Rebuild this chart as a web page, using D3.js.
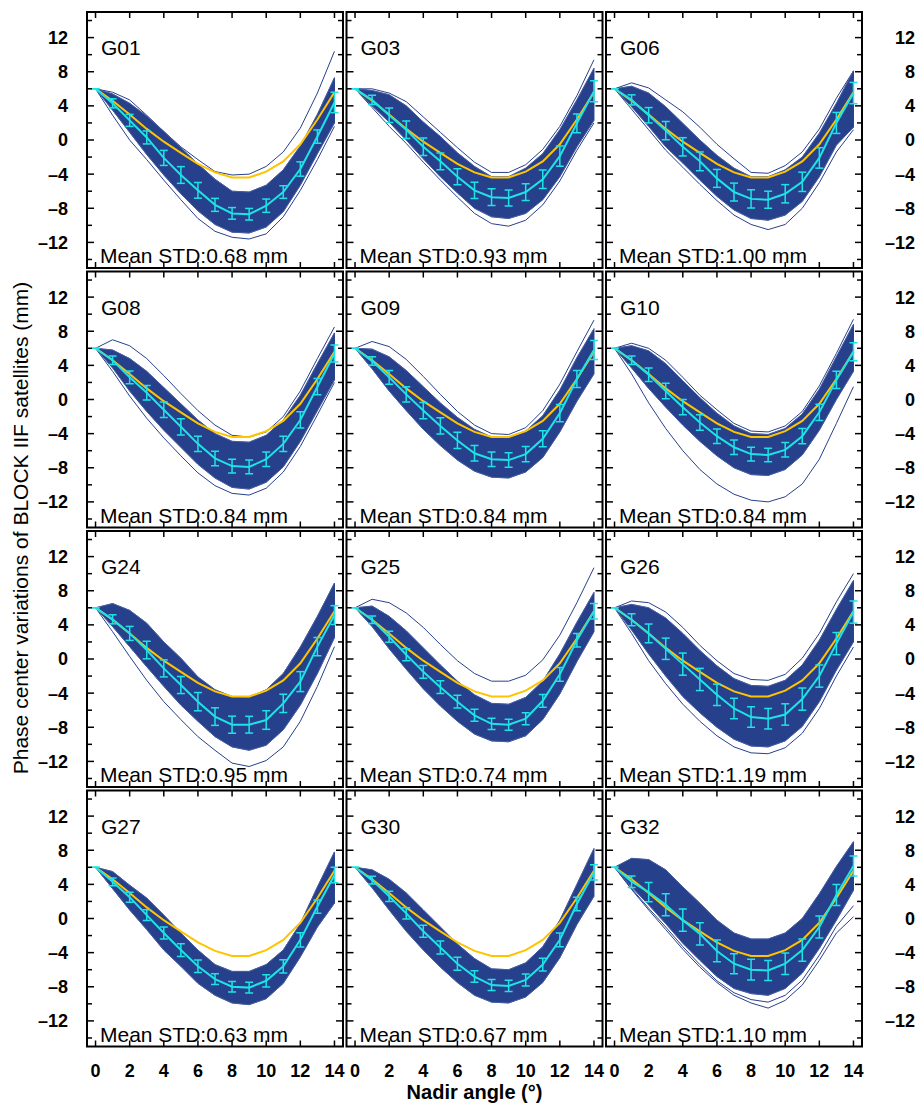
<!DOCTYPE html>
<html>
<head>
<meta charset="utf-8">
<script src="https://cdn.jsdelivr.net/npm/d3@7"></script>
<style>
  body { margin: 0; background: #fff; }
  text { font-family: "Liberation Sans", Arial, sans-serif; }
</style>
</head>
<body>
<svg width="918" height="1103"></svg>
<script>
// nadir angles (deg)
var nadir = [0,1,2,3,4,5,6,7,8,9,10,11,12,13,14];
var satellites = ["G01","G03","G06","G08","G09","G10","G24","G25","G26","G27","G30","G32"];
var meanStd = ["0.68","0.93","1.00","0.84","0.84","0.84","0.95","0.74","1.19","0.63","0.67","1.10"];

// IGS model PCV (same for all Block IIF)
var igsModel = [6.0,4.6,3.0,1.3,-0.2,-1.5,-2.8,-3.8,-4.4,-4.4,-3.7,-2.5,-0.5,2.4,5.6];

// mean estimated PCV per satellite
var meanPcv = [
  [6.0,4.3,2.3,0.3,-2.1,-4.1,-5.9,-7.6,-8.6,-8.7,-7.7,-6.1,-3.4,0.4,4.4],
  [6.0,4.7,2.9,1.2,-0.8,-2.5,-4.3,-5.9,-6.7,-6.8,-6.1,-4.6,-1.9,1.95,5.7],
  [6.0,4.7,2.9,1.1,-0.8,-2.5,-4.5,-6.1,-6.9,-7.0,-6.3,-4.9,-2.1,2.0,5.5],
  [6.0,4.6,2.6,0.8,-1.2,-3.2,-5.2,-6.9,-7.8,-7.9,-7.0,-5.2,-2.4,1.5,5.4],
  [6.0,4.5,2.6,0.6,-1.3,-3.1,-4.8,-6.3,-7.0,-7.1,-6.4,-4.6,-1.6,2.4,5.8],
  [6.0,4.6,2.9,1.0,-0.9,-2.7,-4.3,-5.6,-6.4,-6.5,-5.9,-4.3,-1.5,2.3,5.6],
  [6.0,4.65,3.0,1.05,-1.1,-3.05,-5.0,-6.75,-7.7,-7.7,-7.15,-5.2,-2.65,1.45,5.15],
  [6.0,4.6,2.6,0.5,-1.5,-3.3,-5.0,-6.6,-7.6,-7.7,-7.0,-4.9,-1.8,2.2,5.6],
  [6.0,4.6,3.0,1.2,-0.6,-2.4,-4.2,-5.8,-6.8,-7.0,-6.5,-4.7,-2.0,1.8,5.5],
  [6.0,4.3,2.5,0.4,-1.7,-3.7,-5.6,-7.1,-8.0,-8.1,-7.3,-5.6,-2.5,1.4,5.1],
  [6.0,4.5,2.6,0.6,-1.5,-3.4,-5.3,-6.8,-7.8,-7.9,-7.2,-5.4,-2.5,1.7,5.4],
  [6.0,4.3,3.1,1.6,-0.2,-1.8,-3.8,-5.3,-6.0,-6.1,-5.3,-3.7,-1.0,2.75,6.15]
];

// standard deviation per nadir angle
var stdPcv = [
  [0,0.53,0.7,0.76,0.88,0.98,0.92,0.76,0.68,0.68,0.78,0.74,0.84,0.78,1.2],
  [0,0.53,0.84,1.03,1.03,0.98,0.94,0.96,0.98,0.94,0.98,1.07,1.19,1.1,1.23],
  [0,0.59,0.9,1.07,1.07,1.1,1.05,1.05,1.07,1.0,1.07,1.13,1.2,1.23,1.25],
  [0,0.5,0.75,0.85,0.9,0.95,0.9,0.85,0.8,0.8,0.85,0.9,0.95,0.95,1.0],
  [0,0.5,0.8,0.9,0.95,0.95,0.95,0.9,0.85,0.85,0.9,0.95,1.0,1.0,1.1],
  [0,0.5,0.8,0.9,0.9,0.9,0.85,0.85,0.8,0.8,0.85,0.9,0.95,1.0,1.05],
  [0,0.53,0.82,1.03,1.0,1.0,1.07,1.03,1.0,0.98,1.09,1.07,1.17,1.07,1.1],
  [0,0.45,0.65,0.7,0.75,0.75,0.75,0.7,0.65,0.65,0.7,0.75,0.8,0.8,0.9],
  [0,0.7,1.1,1.25,1.3,1.3,1.25,1.2,1.2,1.2,1.25,1.3,1.3,1.3,1.3],
  [0,0.45,0.59,0.63,0.7,0.74,0.74,0.64,0.62,0.64,0.72,0.78,0.84,0.78,0.9],
  [0,0.45,0.6,0.65,0.7,0.75,0.75,0.68,0.65,0.65,0.7,0.75,0.8,0.8,0.9],
  [0,0.68,1.13,1.29,1.3,1.3,1.27,1.17,1.21,1.17,1.27,1.3,1.29,1.23,1.17]
];

// envelope of the bulk of the daily estimates
var bandHigh = [
  [6.0,5.4,4.3,2.8,1.0,-0.9,-2.8,-4.6,-6.0,-6.1,-5.3,-3.5,-0.7,3.0,7.3],
  [6.0,5.8,5.3,4.0,2.1,0.4,-1.5,-3.1,-4.3,-4.3,-3.3,-1.6,1.2,4.7,8.4],
  [6.0,6.3,5.5,3.9,1.95,0.0,-1.8,-3.3,-4.3,-4.3,-3.5,-2.0,0.8,4.3,8.1],
  [6.0,5.8,4.8,3.3,1.4,-0.5,-2.4,-4.0,-4.9,-5.0,-4.2,-2.4,0.5,4.2,7.8],
  [6.0,5.9,5.0,3.4,1.5,-0.4,-2.1,-3.5,-4.4,-4.5,-3.7,-1.9,1.1,4.9,8.3],
  [6.0,6.3,5.7,4.2,2.2,0.2,-1.6,-3.1,-4.0,-4.1,-3.4,-1.7,1.2,5.0,8.8],
  [6.0,6.5,5.7,4.2,2.0,0.1,-2.1,-3.6,-4.4,-4.5,-3.6,-1.7,1.4,5.0,8.9],
  [6.0,6.2,5.0,3.3,1.3,-0.7,-2.6,-4.2,-5.2,-5.3,-4.5,-2.6,0.6,4.3,7.8],
  [6.0,6.4,6.0,4.8,3.0,1.0,-0.8,-2.3,-3.1,-3.2,-2.5,-0.7,2.2,5.8,9.2],
  [6.0,5.5,3.9,2.4,0.4,-1.7,-3.7,-5.4,-6.2,-6.2,-5.4,-3.7,-0.6,3.7,7.8],
  [6.0,5.7,4.6,3.0,1.0,-1.0,-3.0,-4.7,-5.9,-6.0,-5.2,-3.3,-0.2,4.0,8.2],
  [6.0,7.05,6.9,5.7,3.7,1.8,-0.2,-1.7,-2.4,-2.4,-1.7,0.0,2.9,6.1,9.0]
];
var bandLow = [
  [6.0,3.5,0.9,-1.7,-4.1,-6.3,-8.3,-9.9,-10.8,-10.9,-10.2,-8.4,-5.3,-1.6,2.0],
  [6.0,4.0,2.1,0.0,-2.2,-4.3,-6.2,-8.0,-9.0,-9.2,-8.6,-7.0,-4.3,-0.8,2.3],
  [6.0,3.9,1.6,-0.8,-2.7,-4.7,-6.6,-8.2,-9.2,-9.4,-8.8,-7.2,-4.3,-0.6,1.5],
  [6.0,3.7,1.0,-1.4,-3.6,-5.6,-7.6,-9.2,-10.3,-10.5,-9.7,-7.9,-4.9,-1.3,2.3],
  [6.0,3.6,1.0,-1.3,-3.5,-5.4,-7.1,-8.4,-9.1,-9.2,-8.5,-6.8,-3.8,-0.2,3.0],
  [6.0,3.7,1.3,-0.9,-3.0,-4.9,-6.6,-8.0,-8.8,-8.9,-8.2,-6.5,-3.6,0.0,3.3],
  [6.0,3.8,1.45,-0.9,-3.2,-5.4,-7.3,-9.1,-10.3,-10.7,-10.1,-8.3,-5.4,-1.7,2.5],
  [6.0,3.8,1.2,-1.2,-3.5,-5.5,-7.3,-8.8,-9.6,-9.7,-9.0,-7.1,-4.1,-0.3,3.2],
  [6.0,3.4,0.6,-2.0,-4.4,-6.3,-8.0,-9.4,-10.2,-10.3,-9.6,-7.9,-5.0,-1.3,2.0],
  [6.0,3.5,1.0,-1.3,-3.7,-5.6,-7.6,-9.0,-9.9,-10.1,-9.4,-7.6,-4.5,-1.0,1.8],
  [6.0,3.6,1.0,-1.5,-3.7,-5.7,-7.5,-9.0,-9.8,-9.9,-9.2,-7.5,-4.6,-0.7,2.6],
  [6.0,3.7,1.6,-0.6,-2.9,-4.9,-6.8,-8.2,-8.8,-9.0,-8.2,-6.4,-3.5,-0.2,3.3]
];

// individual daily estimates that lie outside the bulk
var outliers = [
  [[6.0,5.6,4.7,2.9,1.0,-0.8,-2.3,-3.7,-4.1,-4.0,-3.1,-1.4,1.4,5.5,10.4],
   [6.0,2.9,0.0,-2.3,-4.7,-7.0,-9.2,-10.7,-11.4,-11.6,-11.0,-9.0,-5.9,-2.3,1.6]],
  [[6.0,6.0,5.5,4.5,2.7,0.9,-0.9,-2.6,-3.8,-3.8,-2.9,-1.1,1.6,5.2,9.4],
   [6.0,3.8,1.6,-0.4,-2.6,-4.7,-6.7,-8.6,-9.8,-10.1,-9.4,-7.6,-4.8,-1.2,2.0]],
  [[6.0,6.7,6.1,4.7,3.3,1.5,-0.5,-2.2,-3.8,-3.9,-3.0,-1.4,1.3,4.9,8.1],
   [6.0,3.6,1.2,-1.2,-3.2,-5.2,-7.1,-8.8,-9.9,-10.5,-9.9,-8.0,-5.0,-1.4,1.2]],
  [[6.0,7.0,6.3,4.8,2.8,0.7,-1.3,-3.0,-4.2,-4.4,-3.8,-2.0,1.0,4.8,8.5],
   [6.0,3.3,0.4,-2.2,-4.5,-6.6,-8.6,-10.1,-11.0,-11.2,-10.4,-8.5,-5.5,-1.8,2.0]],
  [[6.0,6.8,6.2,4.7,2.7,0.6,-1.4,-3.0,-4.0,-4.1,-3.3,-1.3,1.8,5.6,9.3]],
  [[6.0,3.0,-0.4,-3.4,-6.0,-8.2,-9.9,-11.1,-11.8,-12.0,-11.4,-9.9,-7.0,-2.8,1.5],
   [6.0,6.6,6.0,4.6,2.6,0.5,-1.2,-2.8,-3.7,-3.8,-3.1,-1.4,1.6,5.4,9.4]],
  [[6.0,3.2,0.3,-2.5,-5.0,-7.1,-9.1,-10.7,-12.2,-12.6,-11.9,-10.3,-7.3,-3.2,1.45]],
  [[6.0,7.0,6.6,5.4,3.7,1.7,-0.2,-1.7,-2.6,-2.6,-1.9,-0.1,2.8,6.6,10.7]],
  [[6.0,3.0,-0.2,-2.9,-5.3,-7.3,-9.0,-10.3,-11.0,-11.1,-10.4,-8.7,-5.8,-2.0,1.4],
   [6.0,6.8,6.6,5.5,3.7,1.6,-0.2,-1.7,-2.4,-2.5,-1.8,0.1,3.0,6.7,10.0]],
  [],
  [],
  [[6.0,3.4,1.0,-1.3,-3.6,-5.7,-7.5,-9.0,-9.9,-10.5,-9.6,-7.8,-4.9,-1.7,0.2],
   [6.0,3.5,1.2,-1.0,-3.3,-5.4,-7.3,-8.7,-9.5,-9.8,-9.0,-7.2,-4.3,-0.9,1.5]]
];

var xTicks = [0,2,4,6,8,10,12,14];
var yTicks = [-14,-12,-10,-8,-6,-4,-2,0,2,4,6,8,10,12,14];
var yLabels = [-12,-8,-4,0,4,8,12];

var blue = "#27408b", cyan = "#1ee3e6", gold = "#ffc400";

var svg = d3.select("svg");
var pw = 256, ph = 256, step = 259.5, left0 = 87, top0 = 12;

var x = d3.scaleLinear().domain([-0.5, 14.5]).range([0, pw]);
var y = d3.scaleLinear().domain([-15, 15]).range([ph, 0]);
var fmt = function(v) { return v < 0 ? "\u2013" + Math.abs(v) : String(v); };

var line = d3.line().x(function(d, i) { return x(nadir[i]); }).y(function(d) { return y(d); });
var area = d3.area()
    .x(function(d, i) { return x(nadir[i]); })
    .y0(function(d) { return y(d[0]); })
    .y1(function(d) { return y(d[1]); });

svg.append("defs").append("clipPath").attr("id", "clip")
  .append("rect").attr("width", pw).attr("height", ph);

satellites.forEach(function(sat, k) {
  var col = k % 3, row = Math.floor(k / 3);
  var g = svg.append("g")
      .attr("transform", "translate(" + (left0 + col * step) + "," + (top0 + row * step) + ")");
  var plot = g.append("g").attr("clip-path", "url(#clip)");

  // daily curves
  outliers[k].forEach(function(o) {
    plot.append("path").attr("d", line(o))
      .attr("fill", "none").attr("stroke", blue).attr("stroke-width", 1);
  });
  var band = bandLow[k].map(function(v, i) { return [v, bandHigh[k][i]]; });
  plot.append("path").attr("d", area(band))
    .attr("fill", blue).attr("stroke", blue).attr("stroke-width", 1);
  plot.append("path").attr("d", line(bandHigh[k]))
    .attr("fill", "none").attr("stroke", "#5a6fae").attr("stroke-width", 0.6);
  plot.append("path").attr("d", line(bandLow[k]))
    .attr("fill", "none").attr("stroke", "#5a6fae").attr("stroke-width", 0.6);

  // IGS model
  plot.append("path").attr("d", line(igsModel))
    .attr("fill", "none").attr("stroke", gold).attr("stroke-width", 2);

  // mean and error bars
  plot.append("path").attr("d", line(meanPcv[k]))
    .attr("fill", "none").attr("stroke", cyan).attr("stroke-width", 2);
  var eb = plot.selectAll(".eb").data(meanPcv[k]).enter().append("g");
  eb.append("line")
    .attr("x1", function(d, i) { return x(nadir[i]); })
    .attr("x2", function(d, i) { return x(nadir[i]); })
    .attr("y1", function(d, i) { return y(d - stdPcv[k][i]); })
    .attr("y2", function(d, i) { return y(d + stdPcv[k][i]); });
  eb.append("line")
    .attr("x1", function(d, i) { return x(nadir[i]) - 4; })
    .attr("x2", function(d, i) { return x(nadir[i]) + 4; })
    .attr("y1", function(d, i) { return y(d - stdPcv[k][i]); })
    .attr("y2", function(d, i) { return y(d - stdPcv[k][i]); });
  eb.append("line")
    .attr("x1", function(d, i) { return x(nadir[i]) - 4; })
    .attr("x2", function(d, i) { return x(nadir[i]) + 4; })
    .attr("y1", function(d, i) { return y(d + stdPcv[k][i]); })
    .attr("y2", function(d, i) { return y(d + stdPcv[k][i]); });
  eb.selectAll("line").attr("stroke", cyan).attr("stroke-width", 1.5);

  // ticks, inward on all sides
  xTicks.forEach(function(t) {
    g.append("line").attr("x1", x(t)).attr("x2", x(t)).attr("y1", ph).attr("y2", ph - 6)
      .attr("stroke", "#000").attr("stroke-width", 1.5);
    g.append("line").attr("x1", x(t)).attr("x2", x(t)).attr("y1", 0).attr("y2", 6)
      .attr("stroke", "#000").attr("stroke-width", 1.5);
  });
  yTicks.forEach(function(t) {
    var len = yLabels.indexOf(t) >= 0 ? 7 : 5;
    g.append("line").attr("x1", 0).attr("x2", len).attr("y1", y(t)).attr("y2", y(t))
      .attr("stroke", "#000").attr("stroke-width", 1.5);
    g.append("line").attr("x1", pw).attr("x2", pw - len).attr("y1", y(t)).attr("y2", y(t))
      .attr("stroke", "#000").attr("stroke-width", 1.5);
  });
  g.append("rect").attr("width", pw).attr("height", ph)
    .attr("fill", "none").attr("stroke", "#000").attr("stroke-width", 2);

  g.append("text").attr("x", 14).attr("y", 43)
    .attr("font-size", 21).text(sat);
  g.append("text").attr("x", 13).attr("y", 251)
    .attr("font-size", 21).text("Mean STD:" + meanStd[k] + " mm");

  if (col === 0) {
    yLabels.forEach(function(t) {
      g.append("text").attr("x", -19).attr("y", y(t)).attr("dy", "0.36em")
        .attr("text-anchor", "end").attr("font-size", 18).attr("font-weight", "bold")
        .text(fmt(t));
    });
  }
  if (col === 2) {
    yLabels.forEach(function(t) {
      g.append("text").attr("x", 915 - (left0 + 2 * step)).attr("y", y(t)).attr("dy", "0.36em")
        .attr("text-anchor", "end").attr("font-size", 18).attr("font-weight", "bold")
        .text(fmt(t));
    });
  }
  if (row === 3) {
    xTicks.forEach(function(t) {
      g.append("text").attr("x", x(t)).attr("y", ph + 30)
        .attr("text-anchor", "middle").attr("font-size", 18).attr("font-weight", "bold")
        .text(t);
    });
  }
});

svg.append("text")
  .attr("transform", "translate(" + (left0 + step + pw / 2) + ",1099)")
  .attr("text-anchor", "middle").attr("font-size", 20).attr("font-weight", "bold")
  .text("Nadir angle (\u00b0)");

svg.append("text")
  .attr("transform", "translate(28,528) rotate(-90)")
  .attr("text-anchor", "middle").attr("font-size", 21)
  .text("Phase center variations of BLOCK IIF satellites (mm)");
</script>
</body>
</html>
